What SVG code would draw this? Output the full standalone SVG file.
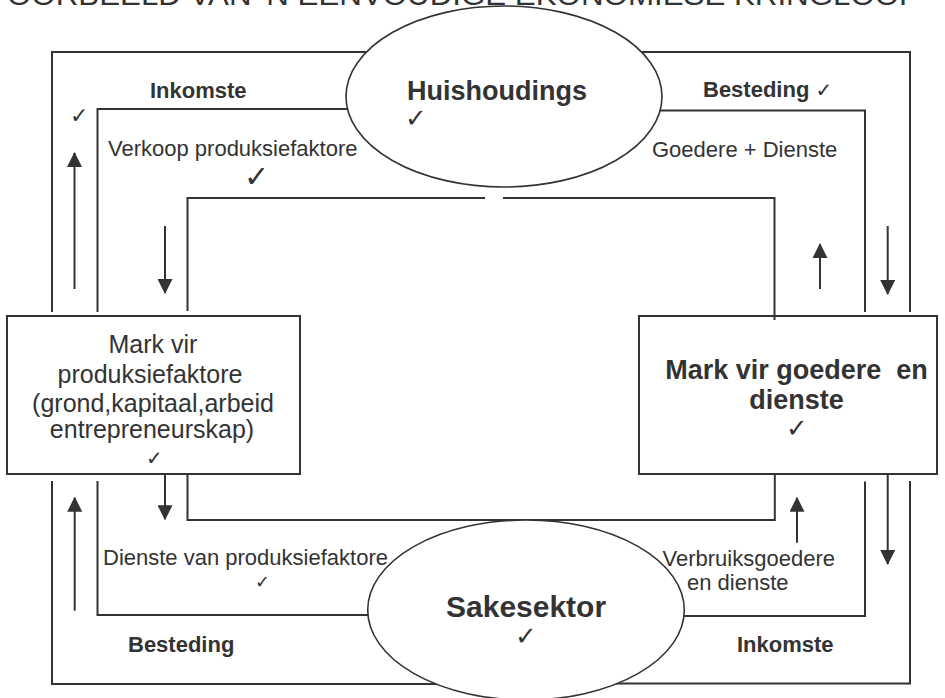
<svg xmlns="http://www.w3.org/2000/svg" width="945" height="698" viewBox="0 0 945 698">
<style>
text{font-family:"Liberation Sans",Arial,sans-serif;fill:#333;}
.b{font-weight:bold;}
.r22{font-size:22px;}
.b22{font-size:22px;font-weight:bold;}
.ck{font-family:"DejaVu Sans",sans-serif;}
.flow{fill:none;stroke:#333;stroke-width:2;}
.arr{fill:none;stroke:#333;stroke-width:2;marker-end:url(#ah);}
.node{fill:#fff;stroke:#333;stroke-width:2;}
.ell{fill:#fff;stroke:#333;stroke-width:1.6;}
</style>
<defs>
<marker id="ah" viewBox="0 0 15 15" refX="14" refY="7.5" markerWidth="15" markerHeight="15" orient="auto" markerUnits="userSpaceOnUse">
<path d="M0,0 L15,7.5 L0,15 z" fill="#333"/>
</marker>
</defs>
<rect width="945" height="698" fill="#fff"/>
<text x="7" y="5" style="font-size:30px" textLength="913" lengthAdjust="spacingAndGlyphs">OORBEELD VAN 'N EENVOUDIGE EKONOMIESE KRINGLOOP</text>
<g id="node-mark-produksie">
<rect class="node" x="7" y="316" width="293" height="158"/>
<g style="font-size:25px" text-anchor="middle">
<text x="153" y="353">Mark vir</text>
<text x="150" y="383">produksiefaktore</text>
<text x="153" y="412">(grond,kapitaal,arbeid</text>
<text x="152" y="438">entrepreneurskap)</text>
</g>
<text x="146" y="465" class="ck" style="font-size:20px">✓</text>
</g>
<g id="node-mark-goedere">
<rect class="node" x="639" y="316" width="298" height="158"/>
<text x="796.5" y="379" class="b" style="font-size:27px;white-space:pre" text-anchor="middle" xml:space="preserve">Mark vir goedere  en</text>
<text x="796.5" y="409" class="b" style="font-size:27px" text-anchor="middle">dienste</text>
<text x="786" y="437" class="ck b" style="font-size:26px">✓</text>
</g>
<g id="connectors">
<path class="flow" d="M52,312 V52 H420"/>
<path class="flow" d="M97.5,312 V109 H420"/>
<path class="flow" d="M187.5,311 V198 H485"/>
<path class="flow" d="M503,198 H774.5 V320"/>
<path class="flow" d="M865,312 V110.5 H600"/>
<path class="flow" d="M910,312 V52 H600"/>
<path class="flow" d="M52,481 V684 H470"/>
<path class="flow" d="M97.5,481 V615 H420"/>
<path class="flow" d="M187.5,474 V520 H774.8 V474"/>
<path class="flow" d="M865,481.5 V616 H640"/>
<path class="flow" d="M910,481 V683.5 H600"/>
<line class="arr" x1="74.5" y1="289" x2="74.5" y2="153"/>
<line class="arr" x1="165" y1="226" x2="165" y2="293"/>
<line class="arr" x1="820" y1="289" x2="820" y2="244"/>
<line class="arr" x1="887.7" y1="226" x2="887.7" y2="294"/>
<line class="arr" x1="74.7" y1="610.7" x2="74.7" y2="497.7"/>
<line class="arr" x1="165" y1="474" x2="165" y2="519.3"/>
<line class="arr" x1="797" y1="542.7" x2="797" y2="497.7"/>
<line class="arr" x1="887.7" y1="474" x2="887.7" y2="564"/>
</g>
<g id="node-huishoudings">
<ellipse class="ell" cx="504" cy="96.5" rx="158" ry="90.5"/>
<text x="407" y="100" class="b" style="font-size:27px">Huishoudings</text>
<text x="405" y="127" class="ck b" style="font-size:26px">✓</text>
</g>
<g id="node-sakesektor">
<ellipse class="ell" cx="526" cy="610" rx="158.3" ry="90"/>
<text x="446" y="617" class="b" style="font-size:30px">Sakesektor</text>
<text x="515" y="645" class="ck b" style="font-size:26px">✓</text>
</g>
<g id="labels">
<text x="150" y="98" class="b22">Inkomste</text>
<text x="70" y="123" class="ck" style="font-size:22px">✓</text>
<text x="703" y="97" class="b22">Besteding <tspan class="ck" style="font-weight:normal;font-size:20px">✓</tspan></text>
<text x="108" y="156" class="r22">Verkoop produksiefaktore</text>
<text x="244" y="187" class="ck b" style="font-size:30px">✓</text>
<text x="652" y="157" class="r22">Goedere + Dienste</text>
<text x="103" y="565" class="r22">Dienste van produksiefaktore</text>
<text x="255" y="588" class="ck" style="font-size:18px">✓</text>
<text x="128" y="652" class="b22">Besteding</text>
<text x="662.5" y="566" class="r22">Verbruiksgoedere</text>
<text x="687" y="590" class="r22">en dienste</text>
<text x="737" y="652" class="b22">Inkomste</text>
</g>
</svg>
